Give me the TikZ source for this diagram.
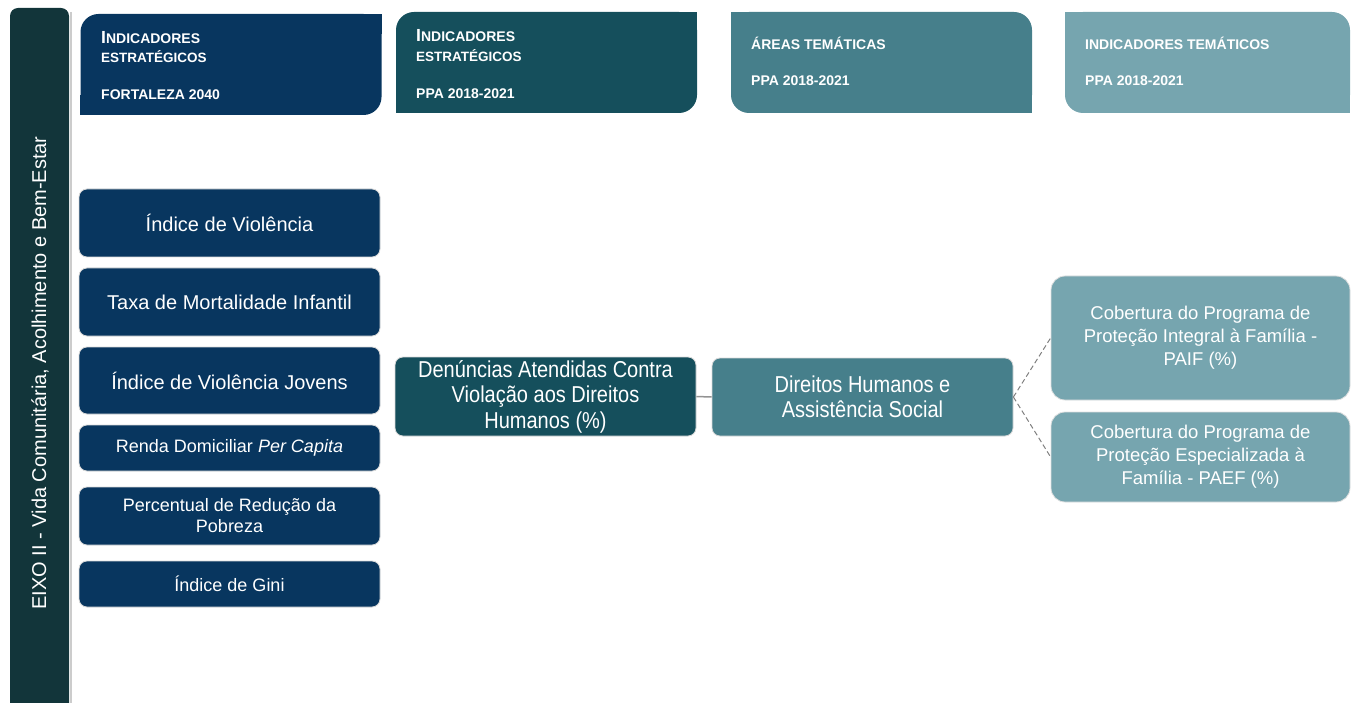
\documentclass[tikz,border=0pt]{standalone}
\usepackage{fontspec}
\setmainfont{Liberation Sans}
\newfontfamily\condfont[FakeStretch=0.87]{Liberation Sans}
\usetikzlibrary{positioning}
\definecolor{navy}{HTML}{08365F}
\definecolor{tealdark}{HTML}{154F5C}
\definecolor{tealmid}{HTML}{467F8B}
\definecolor{teallight}{HTML}{76A5AF}
\definecolor{barcol}{HTML}{12353A}
\tikzset{
  headbox/.style={minimum width=301,minimum height=101,
                  rounded corners=18,inner sep=0pt},
  headtxt/.style={anchor=base west,text=white,inner sep=0pt,
                  font=\bfseries\fontsize{14}{16}\selectfont},
  indbox/.style={fill=navy,draw=black!15,line width=0.8pt,rounded corners=8,
                 minimum width=301,text=white,align=center,inner sep=2pt,
                 font=\fontsize{20}{24}\selectfont},
  smallind/.style={indbox,font=\fontsize{18}{21}\selectfont},
  ppabox/.style={draw=black!15,line width=0.8pt,rounded corners=8,
                 minimum width=301,minimum height=79,text=white,align=center,
                 inner sep=2pt,font=\condfont\fontsize{23}{25.5}\selectfont},
  temabox/.style={fill=teallight,draw=black!12,line width=0.8pt,rounded corners=14,
                  minimum width=299,text=white,align=center,inner sep=2pt,
                  font=\fontsize{18.5}{23}\selectfont},
  link/.style={draw=gray!85,line width=1.5pt},
  dashlink/.style={draw=gray,line width=1pt,dash pattern=on 5pt off 3pt}
}

\begin{document}
\begin{tikzpicture}[x=1pt,y=-1pt]
  \useasboundingbox (0,0) rectangle (1352,703);

  % eixo bar
  \fill[barcol,rounded corners=8] (10,703) -- (10,8) -- (69,8) -- (69,703);
  \draw[black!20,line width=2pt] (71,12) -- (71,703);
  \node[rotate=90,text=white,font=\fontsize{20}{24}\selectfont] (eixo) at (40,373)
    {EIXO II - Vida Comunitária, Acolhimento e Bem-Estar};

  % headers
  \node[headbox,fill=navy] (h1) at (231,64.5) {};
  \fill[navy] (h1.north east) rectangle ++(-20,20);
  \fill[navy] (h1.south west) rectangle ++(20,-20);
  \node[headtxt] (h1a) at (101,44) {{\fontsize{17.5}{18}\selectfont I}NDICADORES};
  \node[headtxt,font=\bfseries\fontsize{13.5}{15}\selectfont] (h1b) at (101,63) {ESTRATÉGICOS};
  \node[headtxt] (h1c) at (101,100) {FORTALEZA 2040};

  \node[headbox,fill=tealdark] (h2) at (546.5,62.5) {};
  \fill[tealdark] (h2.north east) rectangle ++(-20,20);
  \fill[tealdark] (h2.south west) rectangle ++(20,-20);
  \node[headtxt] (h2a) at (416,42) {{\fontsize{17.5}{18}\selectfont I}NDICADORES};
  \node[headtxt,font=\bfseries\fontsize{13.5}{15}\selectfont] (h2b) at (416,62) {ESTRATÉGICOS};
  \node[headtxt] (h2c) at (416,99) {PPA 2018-2021};

  \node[headbox,fill=tealmid] (h3) at (881.5,62.5) {};
  \fill[tealmid] (h3.north west) rectangle ++(20,20);
  \fill[tealmid] (h3.south east) rectangle ++(-20,-20);
  \node[headtxt] (h3a) at (751,50) {ÁREAS TEMÁTICAS};
  \node[headtxt] (h3b) at (751,86) {PPA 2018-2021};

  \node[headbox,fill=teallight,minimum width=285] (h4) at (1207.5,62.5) {};
  \fill[teallight] (h4.north west) rectangle ++(20,20);
  \fill[teallight] (h4.south east) rectangle ++(-20,-20);
  \node[headtxt] (h4a) at (1085,50) {INDICADORES TEMÁTICOS};
  \node[headtxt] (h4b) at (1085,86) {PPA 2018-2021};

  % indicadores estrategicos 2040
  \node[indbox,minimum height=68] (viol) at (229.5,223) {Índice de Violência};
  \node[indbox,minimum height=68] (mort) at (229.5,302) {Taxa de Mortalidade Infantil};
  \node[indbox,minimum height=67] (jovens) at (229.5,380.5) {Índice de Violência Jovens};
  \node[smallind,minimum height=46] (renda) at (229.5,448) {Renda Domiciliar \textit{Per Capita}};
  \node[smallind,minimum height=58] (pobreza) at (229.5,516) {Percentual de Redução da\\Pobreza};
  \node[smallind,minimum height=46] (gini) at (229.5,584) {Índice de Gini};

  % ppa
  \node[ppabox,fill=tealdark] (den) at (545.5,396.5)
    {Denúncias Atendidas Contra\\Violação aos Direitos\\Humanos (\%)};
  \node[ppabox,fill=tealmid,minimum height=78] (dh) at (862.5,397)
    {Direitos Humanos e\\Assistência Social};
  \node[temabox,minimum height=124] (paif) at (1200.5,338)
    {Cobertura do Programa de\\Proteção Integral à Família -\\PAIF (\%)};
  \node[temabox,minimum height=90] (paef) at (1200.5,457)
    {Cobertura do Programa de\\Proteção Especializada à\\Família - PAEF (\%)};

  \draw[link] (den) -- (dh);
  \draw[dashlink] (dh.east) -- (paif.west);
  \draw[dashlink] (dh.east) -- (paef.west);
\end{tikzpicture}
\end{document}
